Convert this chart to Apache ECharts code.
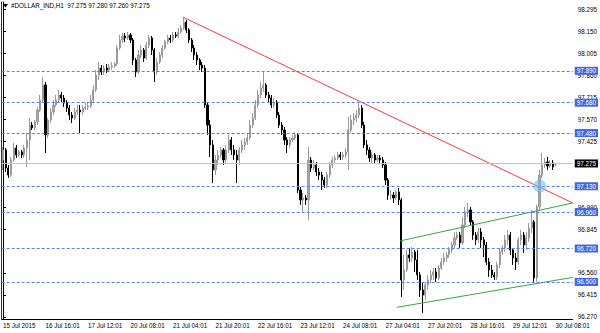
<!DOCTYPE html>
<html><head><meta charset="utf-8">
<script src="https://cdn.jsdelivr.net/npm/echarts@6/dist/echarts.min.js"></script>
<style>html,body{margin:0;padding:0;background:#fff}#c{width:600px;height:333px}</style>
</head><body><div id="c"></div><script>
const titleText = '#DOLLAR_IND,H1  97.275 97.280 97.260 97.275';
const xLabels = ['15 Jul 2015','16 Jul 16:01','17 Jul 12:01','20 Jul 08:01','21 Jul 04:01','21 Jul 20:01','22 Jul 16:01','23 Jul 12:01','24 Jul 08:01','27 Jul 04:01','27 Jul 20:01','28 Jul 16:01','29 Jul 12:01','30 Jul 08:01'];
// price-scale labels visible in the reference (others are covered by level boxes)
const tickLabels = ['98.295','98.150','98.005','97.860','97.715','97.570','97.425','96.990','96.845','96.560','96.415','96.270'];
const hLevels = ['97.890','97.680','97.480','97.130','96.960','96.720','96.500'];
const lastPrice = '97.275';

const opens = [97.303,97.369,97.250,97.204,97.303,97.382,97.336,97.356,97.336,97.382,
97.435,97.533,97.514,97.553,97.632,97.698,97.797,97.468,97.566,97.619,
97.665,97.698,97.731,97.711,97.678,97.645,97.599,97.579,97.619,97.632,
97.619,97.645,97.652,97.658,97.698,97.764,97.862,97.908,97.882,97.908,
97.895,97.915,97.922,97.935,98.040,98.093,98.119,98.106,98.126,98.093,
97.961,97.882,97.994,98.027,97.974,98.060,98.106,98.027,97.882,97.948,
97.994,98.040,98.080,98.106,98.093,98.126,98.119,98.145,98.172,98.211,
98.159,98.093,98.040,97.994,97.961,97.928,97.908,97.665,97.533,97.402,
97.237,97.303,97.336,97.369,97.303,97.369,97.435,97.369,97.336,97.303,
97.369,97.402,97.421,97.448,97.533,97.579,97.665,97.731,97.777,97.797,
97.731,97.711,97.665,97.685,97.599,97.533,97.500,97.435,97.402,97.435,
97.448,97.468,97.105,97.040,97.053,97.040,97.303,97.250,97.270,97.224,
97.204,97.171,97.138,97.204,97.270,97.303,97.316,97.336,97.323,97.336,
97.356,97.500,97.566,97.579,97.599,97.645,97.533,97.402,97.369,97.316,
97.336,97.303,97.316,97.303,97.270,97.171,97.072,97.072,97.053,97.092,
97.040,96.513,96.579,96.678,96.658,96.697,96.645,96.546,96.447,96.414,
96.480,96.513,96.546,96.566,96.526,96.592,96.632,96.658,96.678,96.711,
96.743,96.790,96.809,96.757,96.875,96.961,96.974,96.895,96.809,96.777,
96.829,96.777,96.743,96.632,96.579,96.546,96.533,96.612,96.697,96.724,
96.777,96.809,96.711,96.658,96.632,96.777,96.809,96.743,96.790,96.855,
96.895,96.526,96.994,97.204,97.270,97.290,97.263,97.283,97.275];

const closes = [97.369,97.250,97.204,97.303,97.382,97.336,97.356,97.336,97.382,97.435,
97.533,97.514,97.553,97.632,97.698,97.797,97.468,97.566,97.619,97.665,
97.698,97.731,97.711,97.678,97.645,97.599,97.579,97.619,97.632,97.619,
97.645,97.652,97.658,97.698,97.764,97.862,97.908,97.882,97.908,97.895,
97.915,97.922,97.935,98.040,98.093,98.119,98.106,98.126,98.093,97.961,
97.882,97.994,98.027,97.974,98.060,98.106,98.027,97.882,97.948,97.994,
98.040,98.080,98.106,98.093,98.126,98.119,98.145,98.172,98.211,98.159,
98.093,98.040,97.994,97.961,97.928,97.908,97.665,97.533,97.402,97.237,
97.303,97.336,97.369,97.303,97.369,97.435,97.369,97.336,97.303,97.369,
97.402,97.421,97.448,97.533,97.579,97.665,97.731,97.777,97.797,97.731,
97.711,97.665,97.685,97.599,97.533,97.500,97.435,97.402,97.435,97.448,
97.468,97.105,97.040,97.053,97.040,97.303,97.250,97.270,97.224,97.204,
97.171,97.138,97.204,97.270,97.303,97.316,97.336,97.323,97.336,97.356,
97.500,97.566,97.579,97.599,97.645,97.533,97.402,97.369,97.316,97.336,
97.303,97.316,97.303,97.270,97.171,97.072,97.072,97.053,97.092,97.040,
96.513,96.579,96.678,96.658,96.697,96.645,96.546,96.447,96.414,96.480,
96.513,96.546,96.566,96.526,96.592,96.632,96.658,96.678,96.711,96.743,
96.790,96.809,96.757,96.875,96.961,96.974,96.895,96.809,96.777,96.829,
96.777,96.743,96.632,96.579,96.546,96.533,96.612,96.697,96.724,96.777,
96.809,96.711,96.658,96.632,96.777,96.809,96.743,96.790,96.855,96.895,
96.526,96.994,97.204,97.270,97.290,97.263,97.283,97.257,97.275];

const lows = [97.237,97.224,97.184,97.191,97.290,97.316,97.323,97.316,97.316,97.257,
97.303,97.500,97.500,97.533,97.619,97.678,97.349,97.448,97.546,97.599,
97.652,97.678,97.685,97.652,97.619,97.566,97.546,97.566,97.599,97.481,
97.599,97.632,97.632,97.645,97.678,97.751,97.829,97.862,97.862,97.876,
97.882,97.895,97.908,97.922,98.027,98.073,98.080,98.093,98.073,97.928,
97.849,97.869,97.974,97.948,97.961,98.040,97.994,97.816,97.862,97.935,
97.974,98.027,98.066,98.073,98.080,98.106,98.106,98.132,98.159,98.139,
98.073,98.014,97.961,97.928,97.895,97.882,97.645,97.468,97.323,97.151,
97.204,97.270,97.316,97.270,97.283,97.349,97.336,97.303,97.151,97.270,
97.349,97.369,97.402,97.435,97.514,97.566,97.645,97.711,97.751,97.711,
97.685,97.645,97.645,97.579,97.514,97.468,97.402,97.349,97.382,97.421,
97.435,97.086,97.007,96.961,97.007,96.908,97.224,97.237,97.198,97.171,
97.105,97.119,97.119,97.184,97.250,97.283,97.303,97.303,97.303,97.316,
97.237,97.481,97.533,97.553,97.579,97.514,97.382,97.336,97.290,97.283,
97.283,97.290,97.283,97.250,97.138,97.040,97.040,97.020,97.040,97.007,
96.401,96.447,96.566,96.632,96.632,96.566,96.513,96.401,96.296,96.382,
96.447,96.493,96.513,96.500,96.513,96.579,96.612,96.632,96.658,96.691,
96.724,96.777,96.724,96.743,96.855,96.928,96.875,96.777,96.743,96.757,
96.724,96.664,96.612,96.533,96.526,96.513,96.513,96.592,96.678,96.697,
96.743,96.678,96.612,96.579,96.612,96.743,96.691,96.711,96.763,96.822,
96.493,96.500,96.974,97.184,97.250,97.237,97.250,97.237,97.260];

const highs = [97.388,97.382,97.270,97.323,97.415,97.402,97.369,97.369,97.402,97.481,
97.579,97.553,97.566,97.652,97.731,97.849,97.816,97.579,97.645,97.698,
97.731,97.764,97.751,97.731,97.698,97.665,97.619,97.645,97.665,97.665,
97.665,97.678,97.678,97.731,97.797,97.895,97.948,97.928,97.928,97.935,
97.935,97.948,97.948,98.060,98.126,98.139,98.139,98.145,98.139,98.106,
97.974,98.027,98.060,98.040,98.080,98.126,98.119,98.040,97.974,98.014,
98.060,98.093,98.126,98.126,98.145,98.145,98.172,98.191,98.244,98.224,
98.172,98.106,98.060,98.014,97.974,97.948,97.928,97.685,97.566,97.435,
97.336,97.369,97.388,97.382,97.402,97.468,97.454,97.402,97.369,97.388,
97.435,97.448,97.481,97.566,97.612,97.698,97.764,97.816,97.882,97.810,
97.751,97.731,97.711,97.698,97.619,97.553,97.520,97.454,97.454,97.468,
97.487,97.481,97.125,97.086,97.072,97.388,97.323,97.303,97.290,97.250,
97.224,97.191,97.224,97.290,97.323,97.336,97.356,97.356,97.356,97.382,
97.586,97.599,97.612,97.632,97.685,97.665,97.553,97.435,97.388,97.356,
97.349,97.336,97.336,97.323,97.290,97.184,97.105,97.092,97.105,97.119,
97.053,96.678,96.711,96.724,96.730,96.711,96.711,96.566,96.493,96.500,
96.546,96.579,96.592,96.592,96.612,96.658,96.691,96.697,96.730,96.763,
96.829,96.829,96.829,96.928,96.994,97.020,96.994,96.908,96.829,96.855,
96.855,96.796,96.763,96.658,96.612,96.566,96.632,96.724,96.743,96.809,
96.842,96.829,96.724,96.691,96.796,96.842,96.829,96.829,96.888,96.974,
96.908,97.007,97.237,97.349,97.316,97.323,97.303,97.303,97.280];

// trend lines: [bar position, price]
const redLine = [[67.9, 98.242], [214.5, 97.020]];
const greenUpper = [[149.5, 96.770], [214.5, 97.020]];
const greenLower = [[148.3, 96.333], [214.5, 96.530]];
const marker = [[202.1, 97.130]];

const SLOTS = 215;
const Y_MIN = 96.256, Y_MAX = 98.343;
const FONT = '"Liberation Sans", Arial, sans-serif';
const FS = 6.3;

const cats = Array.from({length: SLOTS}, (_, i) => String(i));
const candles = opens.map((o, i) => [o, closes[i], lows[i], highs[i]]);

const chart = echarts.init(document.getElementById('c'), null, {renderer: 'svg'});

const blue = '#3f67e0';
const mlData = hLevels.map(v => ({
  yAxis: +v, name: v,
  lineStyle: {color: '#5d7fe6', type: [3, 2], width: 1},
  label: {backgroundColor: blue, color: '#fff'}
}));
mlData.push({
  yAxis: +lastPrice, name: lastPrice,
  lineStyle: {color: '#c4c4c4', type: 'solid', width: 1},
  label: {backgroundColor: '#000', color: '#fff'}
});

chart.setOption({
  animation: false,
  backgroundColor: '#fff',
  textStyle: {fontFamily: FONT},
  grid: {left: 1, right: 27, top: 2, bottom: 14, containLabel: false},
  xAxis: [{
    type: 'category', data: cats, boundaryGap: true,
    axisLine: {lineStyle: {color: '#000', width: 1}},
    axisTick: {interval: 15, alignWithLabel: true, length: 3, lineStyle: {color: '#000'}},
    axisLabel: {interval: 15, align: 'left', margin: 3, fontSize: FS, color: '#000', fontFamily: FONT,
      formatter: (v, idx) => xLabels[idx / 16] || ''},
    splitLine: {show: false}
  }, {
    type: 'value', min: -0.5, max: SLOTS - 0.5, show: false
  }],
  yAxis: [{
    type: 'value', position: 'right', min: Y_MIN, max: Y_MAX,
    axisLine: {show: true, lineStyle: {color: '#000', width: 1}},
    axisTick: {show: true, length: 3, customValues: tickLabels.map(Number), lineStyle: {color: '#000'}},
    axisLabel: {customValues: tickLabels.map(Number), margin: 5, fontSize: FS, color: '#000', fontFamily: FONT,
      formatter: v => v.toFixed(3)},
    splitLine: {show: false}
  }, {
    type: 'value', position: 'left', min: Y_MIN, max: Y_MAX,
    axisLine: {show: true, lineStyle: {color: '#333', width: 1}},
    axisTick: {show: false}, axisLabel: {show: false}, splitLine: {show: false}
  }],
  graphic: [
    {type: 'polygon', shape: {points: [[3, 4], [8, 4], [5.5, 7.5]]}, style: {fill: '#000'}},
    {type: 'text', left: 11, top: 2, style: {text: titleText, font: FS + 'px ' + FONT, fill: '#000'}}
  ],
  series: [{
    type: 'candlestick', xAxisIndex: 0, yAxisIndex: 0,
    data: candles, barWidth: 1.6,
    itemStyle: {color: '#a8a8a8', color0: '#000', borderColor: '#9a9a9a', borderColor0: '#000', borderWidth: 1},
    markLine: {
      silent: true, symbol: 'none', animation: false,
      label: {show: true, position: 'end', distance: 2, formatter: '{b}', fontSize: FS, fontFamily: FONT, padding: [1, 2, 1, 2]},
      data: mlData
    }
  }, {
    type: 'line', xAxisIndex: 1, yAxisIndex: 0, data: redLine, symbol: 'none', silent: true,
    lineStyle: {color: '#ff3b3b', width: 1}, z: 4
  }, {
    type: 'line', xAxisIndex: 1, yAxisIndex: 0, data: greenUpper, symbol: 'none', silent: true,
    lineStyle: {color: '#3aa53a', width: 1}, z: 4
  }, {
    type: 'line', xAxisIndex: 1, yAxisIndex: 0, data: greenLower, symbol: 'none', silent: true,
    lineStyle: {color: '#3aa53a', width: 1}, z: 4
  }, {
    type: 'scatter', xAxisIndex: 1, yAxisIndex: 0, data: marker, symbolSize: 13, silent: true,
    itemStyle: {color: 'rgba(110,185,232,0.7)'}, z: 5
  }]
});
</script></body></html>
